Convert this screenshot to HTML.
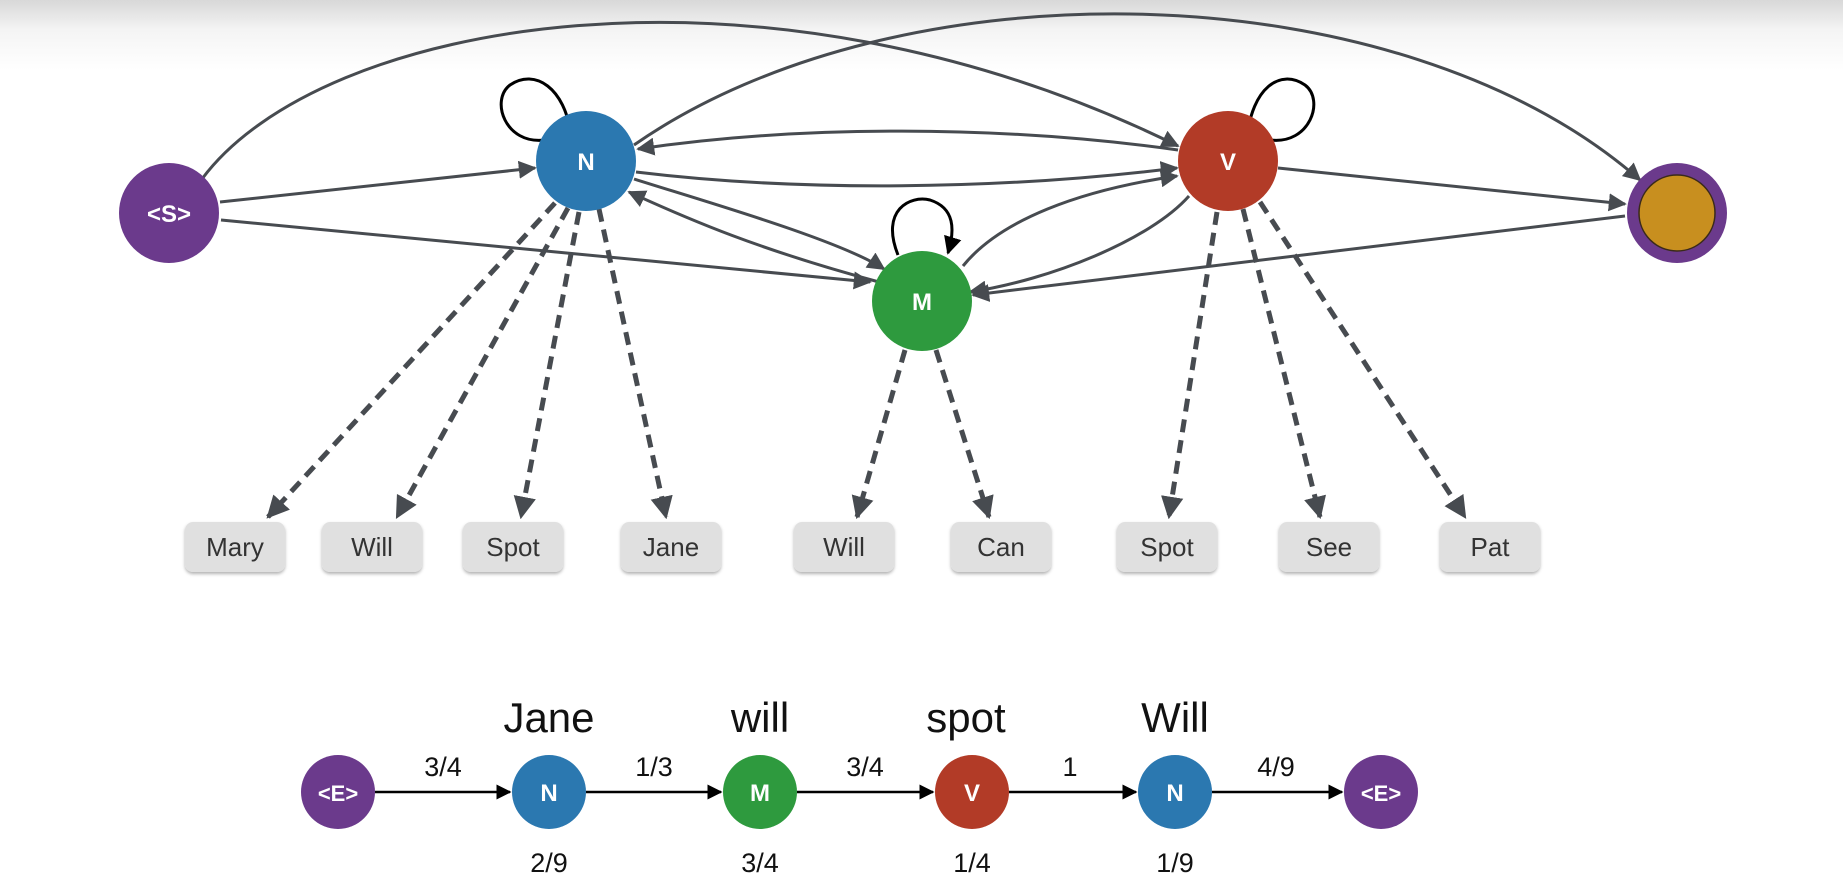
<!DOCTYPE html>
<html><head><meta charset="utf-8"><style>
html,body{margin:0;padding:0;background:#fff;}
body{width:1843px;height:887px;overflow:hidden;background:linear-gradient(#d8d8d8 0px,#f4f4f4 30px,#fff 70px);}
svg{display:block;}
.w{font-family:"Liberation Sans",sans-serif;font-size:26px;fill:#333;text-anchor:middle;}
.n{font-family:"Liberation Sans",sans-serif;font-weight:bold;fill:#fff;text-anchor:middle;}
.t{font-family:"Liberation Sans",sans-serif;fill:#111;text-anchor:middle;}
</style></head><body>
<svg width="1843" height="887" viewBox="0 0 1843 887" xmlns="http://www.w3.org/2000/svg">
<defs>
<marker id="a" viewBox="0 0 10 10" refX="9" refY="5" markerWidth="6" markerHeight="6" orient="auto" markerUnits="strokeWidth"><path d="M0,0 L10,5 L0,10 z" fill="#474b50"/></marker>
<marker id="ad" viewBox="0 0 10 10" refX="9" refY="5" markerWidth="4.5" markerHeight="4.5" orient="auto" markerUnits="strokeWidth"><path d="M0,0 L10,5 L0,10 z" fill="#474b50"/></marker>
<marker id="ab" viewBox="0 0 10 10" refX="9" refY="5" markerWidth="6" markerHeight="6" orient="auto" markerUnits="strokeWidth"><path d="M0,0 L10,5 L0,10 z" fill="#000"/></marker>
<filter id="sh" x="-20%" y="-20%" width="140%" height="150%"><feDropShadow dx="0" dy="2" stdDeviation="1.5" flood-color="#000" flood-opacity="0.3"/></filter>
</defs>

<g fill="none" stroke="#474b50" stroke-width="3" marker-end="url(#a)">
<path d="M220,202 L535,168"/>
<path d="M221,220 L870,282"/>
<path d="M202,179 C320,20 760,-60 1178,146"/>
<path d="M634,145 C900,-40 1400,-30 1640,180"/>
<path d="M1178,150 C1000,125 800,125 638,149"/>
<path d="M636,172 C800,192 1000,190 1177,168"/>
<path d="M634,179 C700,200 840,240 884,269"/>
<path d="M879,282 C760,250 690,220 629,192"/>
<path d="M963,266 C1000,220 1080,190 1177,176"/>
<path d="M1189,196 C1150,240 1050,280 970,292"/>
<path d="M1278,168 L1625,204"/>
<path d="M1625,216 L973,295"/>
</g>

<g fill="none" stroke="#474b50" stroke-width="5" stroke-dasharray="13 8" marker-end="url(#ad)">
<path d="M555,203 L268,517"/>
<path d="M568,208 L397,517"/>
<path d="M579,212 L521,517"/>
<path d="M599,209 L666,517"/>
<path d="M905,350 L857,517"/>
<path d="M936,350 L989,517"/>
<path d="M1217,212 L1169,517"/>
<path d="M1243,209 L1320,517"/>
<path d="M1260,202 L1465,517"/>
</g>

<g fill="none" stroke="#000" stroke-width="3" marker-end="url(#ab)">
<path d="M545,140 C505,145 490,100 510,85 C535,68 565,88 571,135"/>
<path d="M1270,140 C1310,145 1325,100 1305,85 C1280,68 1252,88 1247,138"/>
<path d="M898,255 C880,210 910,195 930,200 C955,208 955,230 948,253"/>
</g>

<g>
<circle cx="169" cy="213" r="50" fill="#6b3a8c"/>
<text class="n" x="169" y="222" font-size="24">&lt;S&gt;</text>
<circle cx="586" cy="161" r="50" fill="#2b78b0"/>
<text class="n" x="586" y="170" font-size="24">N</text>
<circle cx="1228" cy="161" r="50" fill="#b23b27"/>
<text class="n" x="1228" y="170" font-size="24">V</text>
<circle cx="922" cy="301" r="50" fill="#2e9a3e"/>
<text class="n" x="922" y="310" font-size="24">M</text>
<circle cx="1677" cy="213" r="50" fill="#6b3a8c"/>
<circle cx="1677" cy="213" r="38" fill="#c88f1f" stroke="#3a2a1a" stroke-width="1.5"/>
</g>

<g filter="url(#sh)" fill="#e0e0e0">
<rect x="185" y="522" width="100" height="50" rx="8"/>
<rect x="322" y="522" width="100" height="50" rx="8"/>
<rect x="463" y="522" width="100" height="50" rx="8"/>
<rect x="621" y="522" width="100" height="50" rx="8"/>
<rect x="794" y="522" width="100" height="50" rx="8"/>
<rect x="951" y="522" width="100" height="50" rx="8"/>
<rect x="1117" y="522" width="100" height="50" rx="8"/>
<rect x="1279" y="522" width="100" height="50" rx="8"/>
<rect x="1440" y="522" width="100" height="50" rx="8"/>
</g>
<g class="w">
<text x="235" y="556">Mary</text>
<text x="372" y="556">Will</text>
<text x="513" y="556">Spot</text>
<text x="671" y="556">Jane</text>
<text x="844" y="556">Will</text>
<text x="1001" y="556">Can</text>
<text x="1167" y="556">Spot</text>
<text x="1329" y="556">See</text>
<text x="1490" y="556">Pat</text>
</g>

<g stroke="#000" stroke-width="2.5" marker-end="url(#ab)">
<line x1="375" y1="792" x2="510" y2="792"/>
<line x1="586" y1="792" x2="721" y2="792"/>
<line x1="797" y1="792" x2="933" y2="792"/>
<line x1="1009" y1="792" x2="1136" y2="792"/>
<line x1="1212" y1="792" x2="1342" y2="792"/>
</g>
<g>
<circle cx="338" cy="792" r="37" fill="#6b3a8c"/><text class="n" x="338" y="801" font-size="22">&lt;E&gt;</text>
<circle cx="549" cy="792" r="37" fill="#2b78b0"/><text class="n" x="549" y="801" font-size="24">N</text>
<circle cx="760" cy="792" r="37" fill="#2e9a3e"/><text class="n" x="760" y="801" font-size="24">M</text>
<circle cx="972" cy="792" r="37" fill="#b23b27"/><text class="n" x="972" y="801" font-size="24">V</text>
<circle cx="1175" cy="792" r="37" fill="#2b78b0"/><text class="n" x="1175" y="801" font-size="24">N</text>
<circle cx="1381" cy="792" r="37" fill="#6b3a8c"/><text class="n" x="1381" y="801" font-size="22">&lt;E&gt;</text>
</g>
<g class="t" font-size="42">
<text x="549" y="732">Jane</text>
<text x="760" y="732">will</text>
<text x="966" y="732">spot</text>
<text x="1175" y="732">Will</text>
</g>
<g class="t" font-size="27">
<text x="443" y="776">3/4</text>
<text x="654" y="776">1/3</text>
<text x="865" y="776">3/4</text>
<text x="1070" y="776">1</text>
<text x="1276" y="776">4/9</text>
<text x="549" y="872">2/9</text>
<text x="760" y="872">3/4</text>
<text x="972" y="872">1/4</text>
<text x="1175" y="872">1/9</text>
</g>
</svg>
</body></html>
